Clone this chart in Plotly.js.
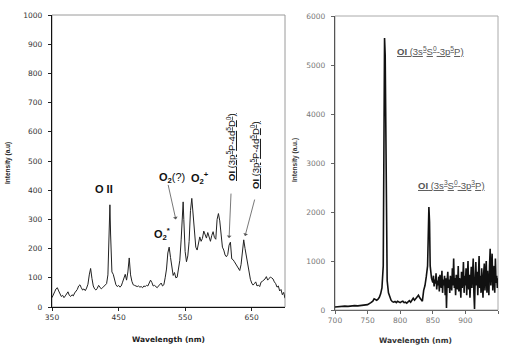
<!DOCTYPE html>
<html>
<head>
<meta charset="utf-8">
<script src="https://cdn.plot.ly/plotly-3.0.1.min.js"></script>
<style>html,body{margin:0;padding:0;background:#fff;}#chart{width:505px;height:345px;}</style>
</head>
<body>
<div id="chart"></div>
<script>
// Left panel: 350-700 nm spectrum
const leftWavelength = [350,352,354,356,358,360,362,364,366,368,370,372,374,376,378,380,382,384,386,388,390,392,394,396,398,400,402,404,406,408,410,412,414,416,418,420,422,424,426,428,430,432,434,436,437,438,440,442,444,446,448,450,452,454,456,458,460,462,464,466,468,470,472,474,476,478,480,482,484,486,488,490,492,494,496,498,500,502,504,506,508,510,512,514,516,518,520,522,524,526,528,530,532,534,536,538,540,542,544,546,547,548,550,552,554,556,558,560,562,564,566,568,570,572,574,576,578,580,582,584,586,588,590,592,594,596,598,600,602,604,606,608,610,612,614,616,618,620,622,624,626,628,630,632,634,636,638,640,642,644,646,648,650,652,654,656,658,660,662,664,666,668,670,672,674,676,678,680,682,684,686,688,690,692,694,696,698,700];
const leftIntensity = [32,40,52,62,66,55,45,36,40,32,38,45,52,40,36,42,38,48,55,60,72,76,66,58,62,56,65,78,110,132,98,72,62,58,64,74,68,62,66,70,74,80,110,250,350,250,120,112,88,76,70,74,68,72,85,100,112,92,120,168,110,88,76,74,72,70,72,68,70,66,72,70,74,72,82,92,84,72,74,70,66,72,78,82,72,76,100,130,185,205,170,130,108,118,100,102,125,160,230,340,360,300,190,155,175,225,330,372,320,270,205,195,215,240,225,235,260,248,236,255,240,225,245,258,238,232,300,320,295,235,205,195,178,172,180,212,222,165,162,155,148,140,132,125,145,190,230,200,170,140,110,95,82,75,80,86,72,75,70,85,88,92,96,104,92,98,102,100,96,86,80,68,72,55,60,42,50,30];

// Right panel: 700-950 nm spectrum
const rightWavelength = [700,705,710,715,720,725,730,735,740,745,750,755,758,760,762,764,766,768,770,772,774,775,776,777,778,779,780,782,784,786,788,790,792,794,796,798,800,802,804,806,808,810,812,814,816,818,820,822,824,826,828,830,832,834,836,838,840,842,843,844,845,846,848,
850,851,852,853,854,855,856,857,858,859,860,861,862,863,864,865,866,867,868,869,870,871,872,873,874,875,876,877,878,879,880,881,882,883,884,885,886,887,888,889,890,891,892,893,894,895,896,897,898,899,900,901,902,903,904,905,906,907,908,909,910,911,912,913,914,915,916,917,918,919,920,921,922,923,924,925,926,927,928,929,930,931,932,933,934,935,936,937,938,939,940,941,942,943,944,945,946,947,948,949,950];
const rightIntensity = [60,70,75,80,75,85,90,85,95,100,110,150,180,230,210,200,220,260,330,450,900,2500,5550,5200,3000,1200,600,350,250,200,170,160,175,150,180,160,150,170,180,150,160,140,170,190,160,210,240,200,230,280,300,250,200,180,400,500,680,900,1500,2100,1800,900,650,
560,700,480,620,540,750,420,600,500,680,380,720,560,450,800,350,620,500,700,300,650,40,600,780,450,620,350,700,520,400,850,500,1050,450,650,300,720,520,420,900,380,650,550,250,780,450,600,980,350,700,500,850,300,650,1000,420,720,250,600,880,450,700,1050,350,20,650,980,500,780,300,600,1100,450,700,350,850,550,250,750,950,400,650,1000,350,800,550,300,900,1250,500,750,1150,400,650,900,350,1050,550,700,450,650];

const leftYTicks = [0,100,200,300,400,500,600,700,800,900,1000];
const leftXTicks = [350,450,550,650];
const rightYTicks = [0,1000,2000,3000,4000,5000,6000];
const rightXTicks = [700,750,800,850,900,950];

const W = 505, H = 345;
const fx = p => p / W;
const fy = p => 1 - p / H;

const tickFont = {family: 'DejaVu Sans', size: 7.5, color: '#333'};
const tickFontR = {family: 'DejaVu Sans', size: 7.5, color: '#777'};

const traces = [
  {x: leftWavelength, y: leftIntensity, type: 'scatter', mode: 'lines',
   line: {color: '#222', width: 1}, xaxis: 'x', yaxis: 'y', hoverinfo: 'skip'},
  {x: rightWavelength, y: rightIntensity, type: 'scatter', mode: 'lines',
   line: {color: '#111', width: 1.6}, xaxis: 'x2', yaxis: 'y2', hoverinfo: 'skip'}
];

const labelFont = {family: 'Liberation Sans', size: 11, color: '#111'};
const rotFont = {family: 'Liberation Sans', size: 9.5, color: '#111'};
const rFont = {family: 'Liberation Sans', size: 9.5, color: '#555'};
const arrowBase = {showarrow: true, arrowhead: 1, arrowsize: 1, arrowwidth: 0.8, arrowcolor: '#555', text: '', axref: 'pixel', ayref: 'pixel', standoff: 0, startstandoff: 0};

function lab(px, py, text, font, extra) {
  return Object.assign({xref: 'paper', yref: 'paper', x: fx(px), y: fy(py), xanchor: 'center', yanchor: 'middle',
    text: text, showarrow: false, font: font}, extra || {});
}

const annotations = [
  lab(104, 189, '<b>O II</b>', labelFont),
  lab(162, 234, '<b>O<sub>2</sub><sup>*</sup></b>', labelFont),
  lab(172, 178, '<b>O<sub>2</sub></b>(?)', labelFont),
  lab(200, 178, '<b>O<sub>2</sub><sup>+</sup></b>', labelFont),
  lab(231, 147, '<b><u>OI</u></b><u> (3p<sup>5</sup>P-4d<sup>5</sup>D<sup>0</sup>)</u>', rotFont, {textangle: -90}),
  lab(255, 155, '<b><u>OI</u></b><u> (3p<sup>5</sup>P-4d<sup>5</sup>D<sup>0</sup>)</u>', rotFont, {textangle: -90}),
  Object.assign({}, arrowBase, {xref: 'x', yref: 'y', x: 536, y: 300, ax: -8, ay: -36}),
  Object.assign({}, arrowBase, {xref: 'x', yref: 'y', x: 616, y: 236, ax: 2, ay: -46}),
  Object.assign({}, arrowBase, {xref: 'x', yref: 'y', x: 640, y: 243, ax: 10, ay: -38}),
  lab(430, 51, '<b><u>OI</u></b><u> (3s<sup>5</sup>S<sup>0</sup>-3p<sup>5</sup>P)</u>', rFont),
  lab(451, 185, '<b><u>OI</u></b><u> (3s<sup>3</sup>S<sup>0</sup>-3p<sup>3</sup>P)</u>', rFont),
  // axis titles
  lab(168, 339, '<b>Wavelength (nm)</b>', {family: 'DejaVu Sans', size: 7.5, color: '#222'}),
  lab(8, 163, '<b>Intensity (a.u)</b>', {family: 'Liberation Sans', size: 6.5, color: '#222'}, {textangle: -90}),
  lab(415, 340, '<b>Wavelength (nm)</b>', {family: 'DejaVu Sans', size: 7.5, color: '#333'}),
  lab(295, 160, '<b>Intensity (a.u.)</b>', {family: 'Liberation Sans', size: 6.5, color: '#333'}, {textangle: -90})
];

const shapes = [
  {type: 'rect', xref: 'x domain', yref: 'y domain', x0: 0, x1: 1, y0: 0, y1: 1, line: {color: '#9a9a9a', width: 1}, layer: 'below'},
  {type: 'rect', xref: 'x2 domain', yref: 'y2 domain', x0: 0, x1: 1, y0: 0, y1: 1, line: {color: '#aaaaaa', width: 1}, layer: 'below'}
];

const layout = {
  width: W, height: H,
  margin: {l: 0, r: 0, t: 0, b: 0},
  paper_bgcolor: '#fff', plot_bgcolor: '#fff',
  showlegend: false,
  xaxis: {domain: [fx(52), fx(285)], range: [350, 700], tickvals: leftXTicks, ticks: 'outside', ticklen: 3,
          tickcolor: '#222', showline: true, linecolor: '#111', linewidth: 1.2, showgrid: false, zeroline: false,
          tickfont: tickFont, anchor: 'y'},
  yaxis: {domain: [fy(307), fy(15)], range: [0, 1000], tickvals: leftYTicks, ticks: 'outside', ticklen: 3,
          tickcolor: '#222', showline: true, linecolor: '#111', linewidth: 1.2, showgrid: false, zeroline: false,
          tickfont: tickFont, anchor: 'x', ticklabelstandoff: 4},
  xaxis2: {domain: [fx(335), fx(498)], range: [700, 950], tickvals: rightXTicks, ticks: 'outside', ticklen: 3,
          tickcolor: '#666', showline: true, linecolor: '#666', linewidth: 1.2, showgrid: false, zeroline: false,
          tickfont: tickFontR, anchor: 'y2'},
  yaxis2: {domain: [fy(310), fy(16)], range: [0, 6000], tickvals: rightYTicks, ticks: 'outside', ticklen: 3,
          tickcolor: '#666', showline: true, linecolor: '#555', linewidth: 1.2, showgrid: false, zeroline: false,
          tickfont: tickFontR, anchor: 'x2', ticklabelstandoff: 4},
  annotations: annotations,
  shapes: shapes
};

Plotly.newPlot('chart', traces, layout, {staticPlot: true, displayModeBar: false});
</script>
</body>
</html>
